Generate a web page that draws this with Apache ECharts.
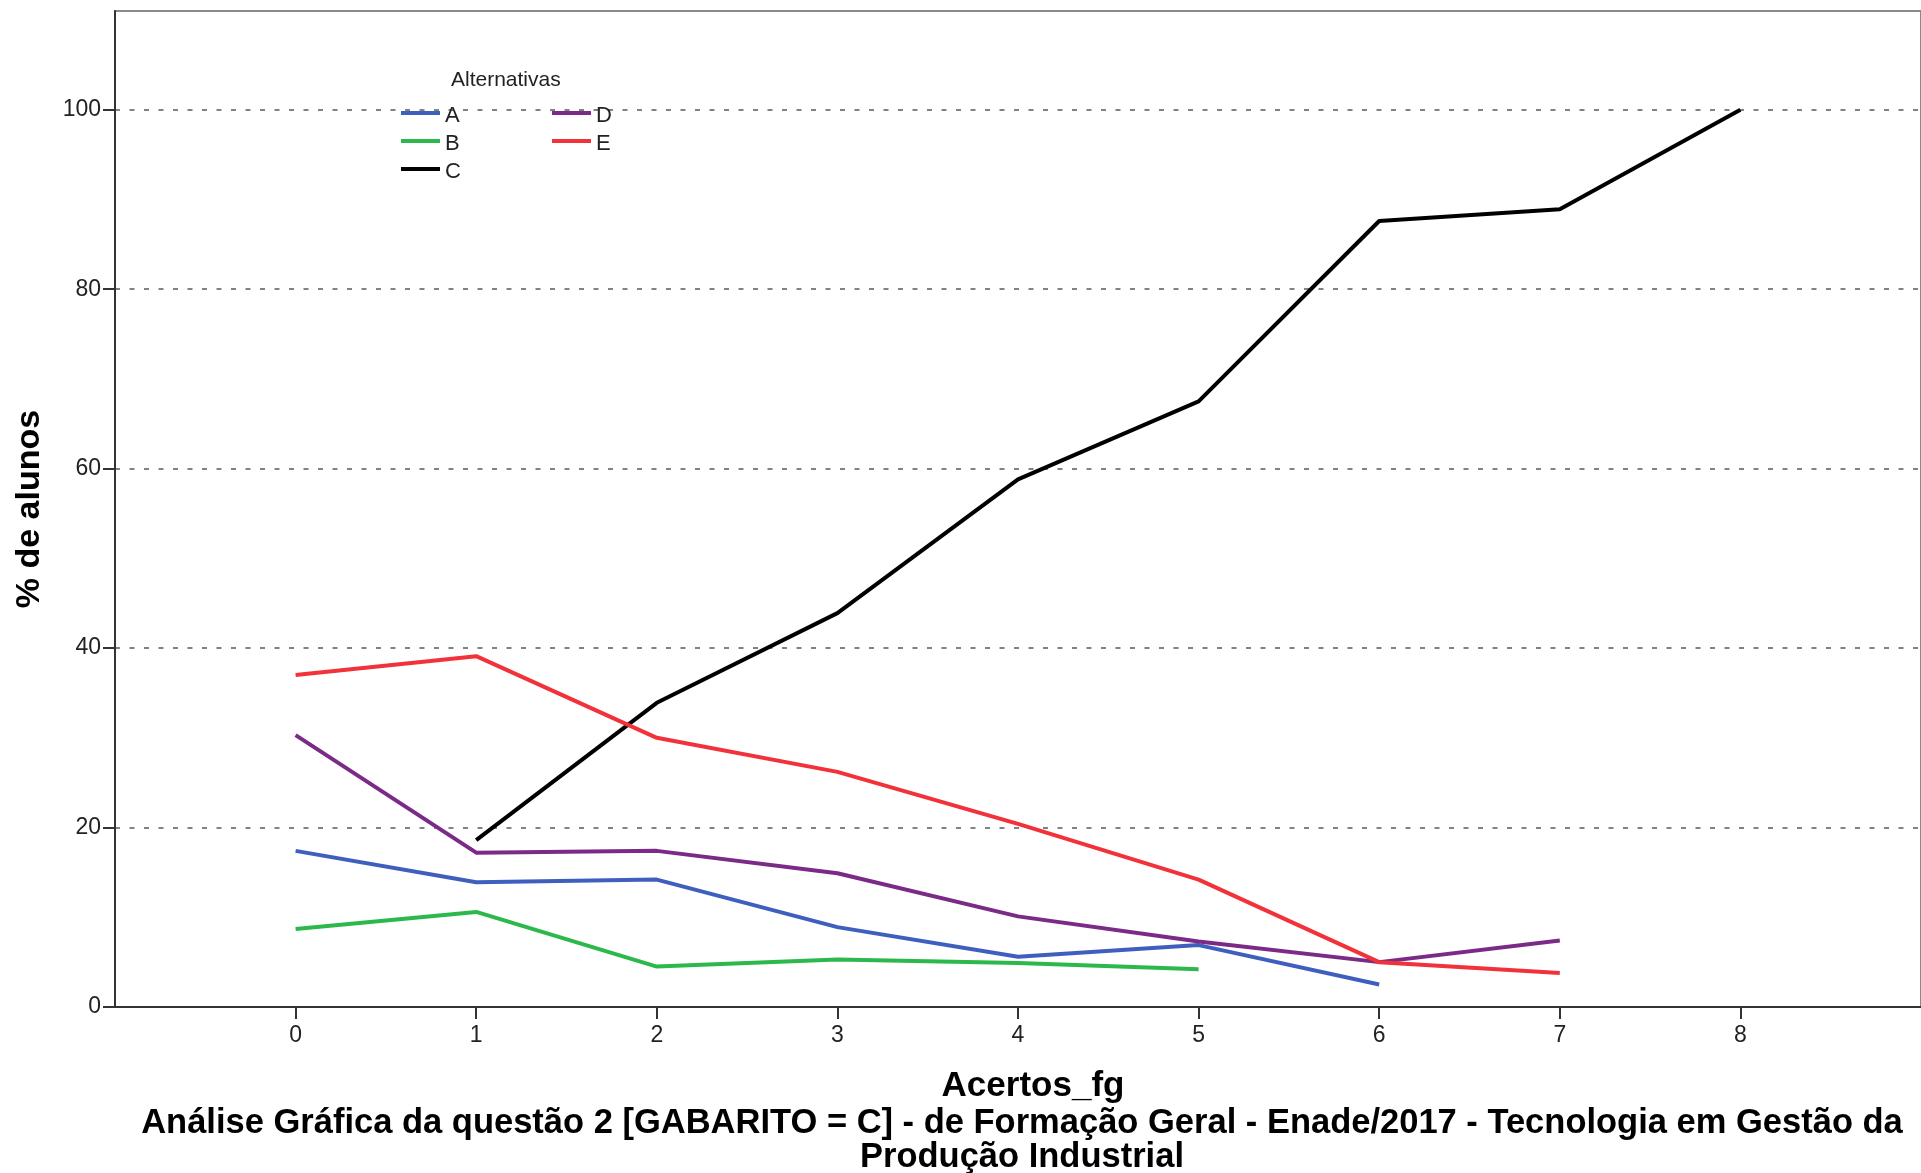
<!DOCTYPE html>
<html>
<head>
<meta charset="utf-8">
<title>Análise Gráfica da questão 2</title>
<script src="https://cdn.jsdelivr.net/npm/echarts@6/dist/echarts.min.js"></script>
<style>
  html, body { margin: 0; padding: 0; background: #ffffff; }
  #chart { width: 1921px; height: 1173px; }
</style>
</head>
<body>
<div id="chart"></div>
<script>
// Number of correct answers (Acertos_fg) on the x axis
const acertos = [0, 1, 2, 3, 4, 5, 6, 7, 8];
const xTicks = [0, 1, 2, 3, 4, 5, 6, 7, 8];
const yTicks = [0, 20, 40, 60, 80, 100];

// % of students choosing each alternative, per score (null = no students)
const altA = [17.4, 13.9, 14.2, 8.9, 5.6, 6.9, 2.5, null, null];
const altB = [8.7, 10.6, 4.5, 5.3, 4.9, 4.2, null, null, null];
const altC = [null, 18.6, 33.9, 43.9, 58.8, 67.5, 87.6, 88.9, 100];
const altD = [30.3, 17.2, 17.4, 14.9, 10.1, 7.3, 5.0, 7.4, null];
const altE = [37.0, 39.1, 30.0, 26.2, 20.4, 14.2, 5.0, 3.8, null];

const seriesNames = ['A', 'B', 'C', 'D', 'E'];
const seriesValues = [altA, altB, altC, altD, altE];
const seriesColors = ['#3f5fbf', '#2db84b', '#000000', '#7b2a87', '#f2323a'];

const FONT = "'Liberation Sans', Arial, sans-serif";

function pairs(values) {
  const out = [];
  values.forEach((v, i) => { if (v !== null) out.push([acertos[i], v]); });
  return out;
}

const chart = echarts.init(document.getElementById('chart'), null, { renderer: 'canvas' });

const legendCommon = {
  orient: 'vertical',
  icon: 'rect',
  itemWidth: 39,
  itemHeight: 4,
  itemGap: 0,
  selectedMode: false,
  formatter: '{t|{name}}',
  textStyle: {
    fontFamily: FONT, fontSize: 22, color: '#222',
    rich: { t: { fontFamily: FONT, fontSize: 22, lineHeight: 18.6, padding: [6, 0, 0, 0], color: '#222' } }
  }
};

chart.setOption({
  animation: false,
  backgroundColor: '#ffffff',
  title: {
    text: 'Análise Gráfica da questão 2 [GABARITO = C] - de Formação Geral - Enade/2017 - Tecnologia em Gestão da\nProdução Industrial',
    left: 1022,
    top: 1106,
    textAlign: 'center',
    padding: 0,
    textStyle: { fontFamily: FONT, fontSize: 34.5, fontWeight: 'bold', color: '#000', lineHeight: 34 }
  },
  graphic: [{
    type: 'text',
    left: 451,
    top: 70,
    style: { text: 'Alternativas', fontFamily: FONT, fontSize: 21, fill: '#222' }
  }],
  legend: [
    Object.assign({ data: ['A', 'B', 'C'], left: 396, top: 94 }, legendCommon),
    Object.assign({ data: ['D', 'E'], left: 547, top: 94 }, legendCommon)
  ],
  grid: {
    left: 115,
    right: -12,
    top: 11,
    bottom: 166,
    show: true,
    borderColor: '#8a8a8a',
    borderWidth: 2,
    containLabel: false
  },
  xAxis: {
    type: 'value',
    min: -1,
    max: 9,
    interval: 1,
    name: 'Acertos_fg',
    nameLocation: 'middle',
    nameGap: 62,
    nameTextStyle: { fontFamily: FONT, fontSize: 35, fontWeight: 'bold', color: '#000', padding: [0, 0, 0, 30] },
    axisLine: { onZero: false, lineStyle: { color: '#333', width: 2 } },
    axisTick: { show: true, length: 12, customValues: xTicks, lineStyle: { color: '#333', width: 2 } },
    axisLabel: { customValues: xTicks, margin: 17, fontFamily: FONT, fontSize: 23, color: '#222' },
    splitLine: { show: false }
  },
  yAxis: {
    type: 'value',
    min: 0,
    max: 111,
    interval: 20,
    name: '% de alunos',
    nameLocation: 'middle',
    nameGap: 68,
    nameTextStyle: { fontFamily: FONT, fontSize: 34, fontWeight: 'bold', color: '#000' },
    axisLine: { show: true, onZero: false, lineStyle: { color: '#333', width: 2 } },
    axisTick: { show: true, length: 12, customValues: yTicks, lineStyle: { color: '#333', width: 2 } },
    axisLabel: { customValues: yTicks, margin: 14, fontFamily: FONT, fontSize: 23, color: '#222' },
    splitLine: {
      show: true,
      lineStyle: {
        color: ['rgba(0,0,0,0)', '#5a5a5a', '#5a5a5a', '#5a5a5a', '#5a5a5a', '#5a5a5a', 'rgba(0,0,0,0)'],
        width: 1.6,
        type: [5, 9.5]
      }
    }
  },
  series: seriesNames.map((name, i) => ({
    name: name,
    type: 'line',
    data: pairs(seriesValues[i]),
    showSymbol: false,
    symbol: 'none',
    color: seriesColors[i],
    lineStyle: { width: 4, color: seriesColors[i] },
    emphasis: { disabled: true }
  }))
});
</script>
</body>
</html>
